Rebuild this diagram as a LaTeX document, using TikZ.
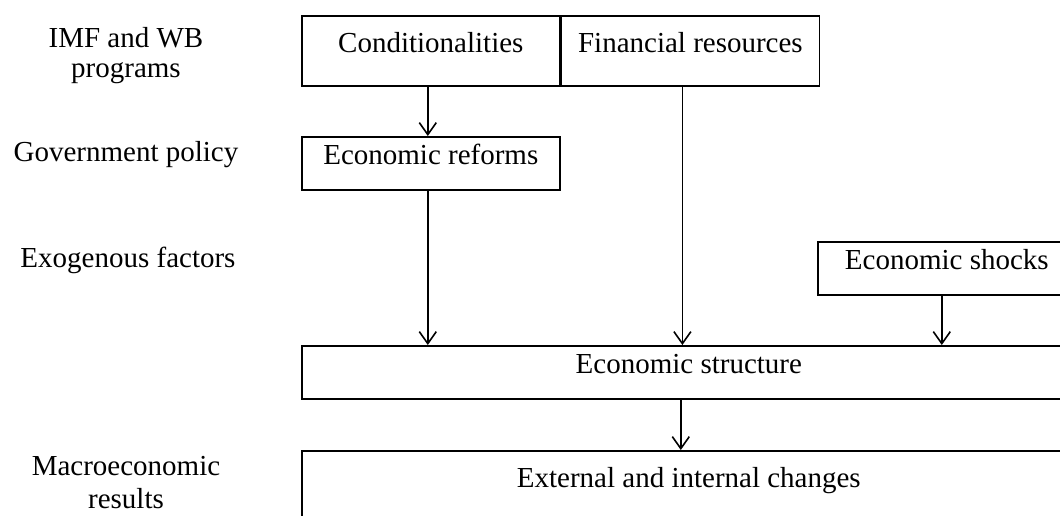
\documentclass[tikz,border=0pt]{standalone}
\usepackage{fontspec}
\setmainfont{Liberation Serif}
\usepackage{tikz}
\usetikzlibrary{arrows.meta,positioning}

\tikzset{
    box/.style={draw, line width=1.6pt, minimum width=258pt, inner sep=0pt,
        text height=28pt, text depth=25pt, anchor=north west},
    topbox/.style={box, text height=37pt, text depth=33pt},
    lbl/.style={align=center, inner sep=0pt},
    arr/.style={line width=1.6pt, -{Straight Barb[length=12pt,width=17pt]}}
}

\begin{document}
\begin{tikzpicture}[x=1pt,y=-1pt,font=\fontsize{29}{30}\selectfont]
    \clip (0,0) rectangle (1060,515);

    % Levels on the left
    \node[lbl] (imf) at (126,56) {IMF and WB\\programs};
    \node[lbl] (gov) at (126,155) {Government policy};
    \node[lbl] (exo) at (128,260) {Exogenous factors};
    \node[lbl] (macro) at (126,483) {Macroeconomic\\[3pt]results};

    % Boxes
    \node[topbox] (cond) at (301,15) {Conditionalities};
    \node[topbox, right=0pt of cond] (fin) {Financial resources};
    \node[box] (reform) at (301,136) {Economic reforms};
    \node[box] (shock) at (817,241) {Economic shocks};
    \node[box, minimum width=774pt] (struct) at (301,345) {Economic structure};
    \node[box, minimum width=774pt, text height=37pt, text depth=40pt] (change) at (301,450) {External and internal changes};

    % Arrows
    \draw[arr] ([xshift=-3pt]cond.south) -- ([xshift=-3pt]reform.north);
    \draw[arr] ([xshift=-3pt]reform.south) -- ([xshift=-3pt]reform.south |- struct.north);
    \draw[arr] ([xshift=-8pt]fin.south) -- ([xshift=-8pt]fin.south |- struct.north);
    \draw[arr] ([xshift=-5pt]shock.south) -- ([xshift=-5pt]shock.south |- struct.north);
    \draw[arr] ([xshift=-8pt]struct.south) -- ([xshift=-8pt]struct.south |- change.north);
\end{tikzpicture}
\end{document}
